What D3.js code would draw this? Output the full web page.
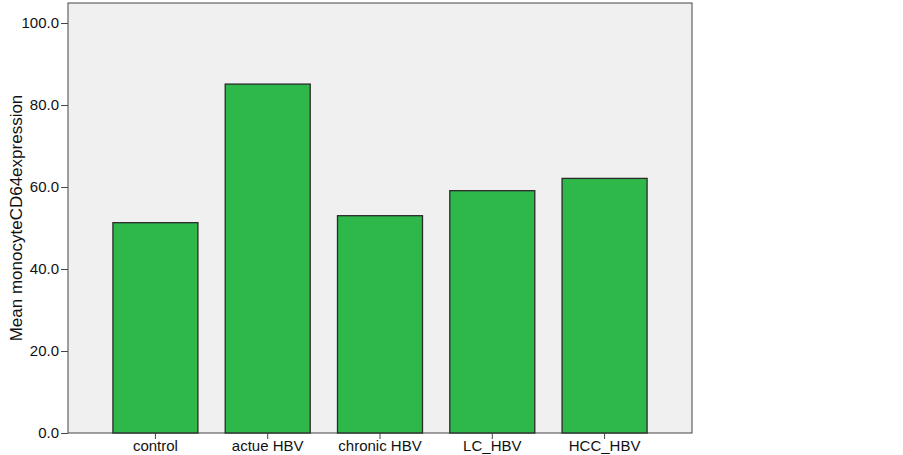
<!DOCTYPE html>
<html><head><meta charset="utf-8">
<script src="https://cdn.jsdelivr.net/npm/d3@7"></script>
<style>body{margin:0;background:#fff;}svg{display:block;font-family:"Liberation Sans",Arial,sans-serif;}</style>
</head><body>
<svg id="c" width="903" height="455"></svg>
<script>
const categories = ["control","actue HBV","chronic HBV","LC_HBV","HCC_HBV"];
const values = [51.3, 85.1, 53.0, 59.1, 62.1];
const yTicks = [0,20,40,60,80,100];
const yLabel = "Mean monocyteCD64expression";

const svg = d3.select("#c");
const L=68, R=692, T=3, B=433;
const x = d3.scaleBand().domain(categories).range([L,R]).paddingInner(0.243).paddingOuter(0.4);
const y = d3.scaleLinear().domain([0,100]).range([B, B-410]);

svg.append("rect").attr("x",L).attr("y",T).attr("width",R-L).attr("height",B-T)
  .attr("fill","#f0f0f0").attr("stroke","#444").attr("stroke-width",1);

svg.selectAll("rect.bar").data(values).join("rect").attr("class","bar")
  .attr("x",(d,i)=>x(categories[i])).attr("width",x.bandwidth())
  .attr("y",d=>y(d)).attr("height",d=>B-y(d))
  .attr("fill","#2fb84a").attr("stroke","#2a2a2a").attr("stroke-width",1.3);

const ya = svg.append("g").attr("transform",`translate(${L},0)`)
  .call(d3.axisLeft(y).tickValues(yTicks).tickFormat(d3.format(".1f")).tickSize(7).tickPadding(2));
ya.select(".domain").remove();
ya.selectAll("line").attr("stroke","#444");
ya.selectAll("text").attr("font-size",15).attr("fill","#111").attr("font-family","Liberation Sans, Arial, sans-serif");

const xa = svg.append("g").attr("transform",`translate(0,${B})`)
  .call(d3.axisBottom(x).tickSize(6).tickPadding(1));
xa.select(".domain").remove();
xa.selectAll("line").attr("stroke","#444");
xa.selectAll("text").attr("font-size",15).attr("fill","#111").attr("font-family","Liberation Sans, Arial, sans-serif");

svg.append("text").attr("transform",`translate(22,${(T+B)/2}) rotate(-90)`)
  .attr("text-anchor","middle").attr("font-size",17).attr("fill","#111").text(yLabel);
</script>
</body></html>
